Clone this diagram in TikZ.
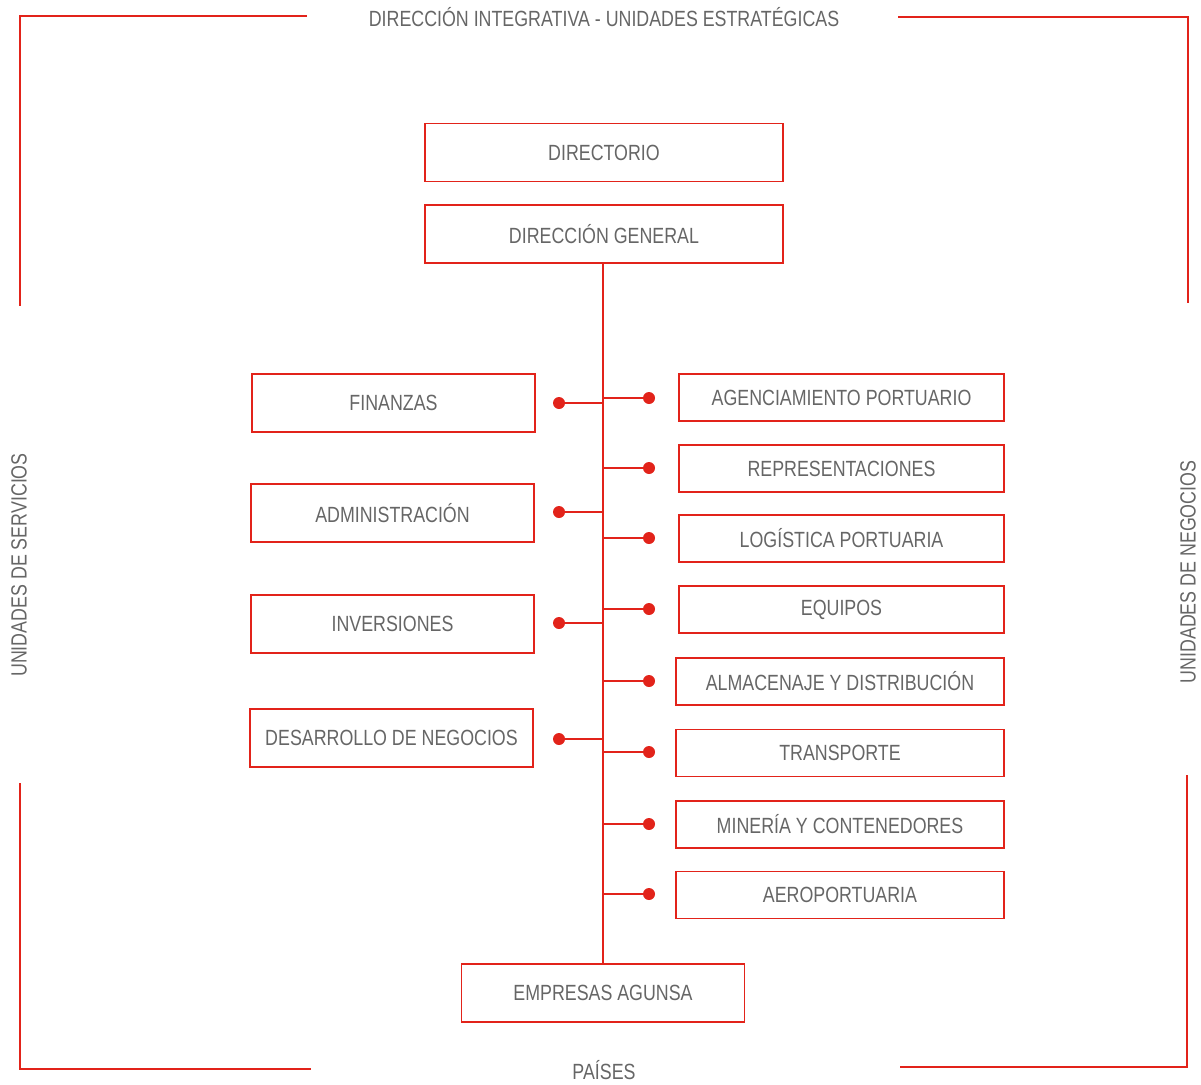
\documentclass[tikz,border=0pt]{standalone}
\usepackage{fontspec}
\setmainfont{Liberation Sans}[FakeStretch=0.81]
\usepackage{tikz}
\usetikzlibrary{positioning}
\definecolor{rojo}{HTML}{E2231A}
\definecolor{gris}{HTML}{666666}

\begin{document}
\begin{tikzpicture}[
			x=1pt, y=-1pt,
			every node/.style={font=\fontsize{22}{24}\selectfont, text=gris},
			box/.style={draw=rojo, line width=1.4pt, rectangle, minimum width=283pt, minimum height=58pt, inner sep=0pt},
			rbox/.style={box, minimum width=325pt, minimum height=47pt},
			dot/.style={circle, fill=rojo, inner sep=0pt, minimum size=12pt},
			frame/.style={draw=rojo, line width=1.4pt},
			link/.style={draw=rojo, line width=1.6pt}
			]
			\useasboundingbox (0,0) rectangle (1201,1084);

			% Los marcos
			\draw[frame] (307,16) -- (20,16) -- (20,306);
			\draw[frame] (898,17) -- (1188,17) -- (1188,303);
			\draw[frame] (20,783) -- (20,1069) -- (311,1069);
			\draw[frame] (1187,775) -- (1187,1067) -- (900,1067);
			\node (titulo) at (604,17) {DIRECCIÓN INTEGRATIVA - UNIDADES ESTRATÉGICAS};
			\node (paises) at (604,1070) {PAÍSES};
			\node[rotate=90] (servicios) at (19,565) {UNIDADES DE SERVICIOS};
			\node[rotate=90] (negocios) at (1188,572) {UNIDADES DE NEGOCIOS};

			% Las cajas centrales
			\node[box, minimum width=358pt] (DIR) at (604,152.5) {DIRECTORIO};
			\node[box, minimum width=358pt] (DG) at (604,234) {DIRECCIÓN GENERAL};
			\node[box] (EA) at (603,993) {EMPRESAS AGUNSA};
			\draw[link] (EA.north) -- (EA.north |- DG.south);

			% Unidades de servicios
			\node[box] (FIN) at (393.5,403) {FINANZAS};
			\node[box] (ADM) at (392.5,513) {ADMINISTRACIÓN};
			\node[box] (INV) at (392.5,624) {INVERSIONES};
			\node[box] (DES) at (391.5,738) {DESARROLLO DE NEGOCIOS};
			\node[dot] (dFIN) at (559,403) {};
			\node[dot] (dADM) at (559,512) {};
			\node[dot] (dINV) at (559,623) {};
			\node[dot] (dDES) at (559,739) {};
			\coordinate (tFIN) at (603,403);
			\coordinate (tADM) at (603,512);
			\coordinate (tINV) at (603,623);
			\coordinate (tDES) at (603,739);
			\draw[link] (dFIN.center) -- (tFIN);
			\draw[link] (dADM.center) -- (tADM);
			\draw[link] (dINV.center) -- (tINV);
			\draw[link] (dDES.center) -- (tDES);

			% Unidades de negocios
			\node[rbox] (AGE) at (841.5,397.5) {AGENCIAMIENTO PORTUARIO};
			\node[rbox] (REP) at (841.5,468.5) {REPRESENTACIONES};
			\node[rbox] (LOG) at (841.5,538.5) {LOGÍSTICA PORTUARIA};
			\node[rbox] (EQU) at (841.5,609.5) {EQUIPOS};
			\node[rbox, minimum width=328pt] (ALM) at (840,681.5) {ALMACENAJE Y DISTRIBUCIÓN};
			\node[rbox, minimum width=328pt] (TRA) at (840,753) {TRANSPORTE};
			\node[rbox, minimum width=328pt] (MIN) at (840,824.5) {MINERÍA Y CONTENEDORES};
			\node[rbox, minimum width=328pt] (AER) at (840,895) {AEROPORTUARIA};
			\node[dot] (dAGE) at (649,398) {};
			\node[dot] (dREP) at (649,468) {};
			\node[dot] (dLOG) at (649,538) {};
			\node[dot] (dEQU) at (649,609) {};
			\node[dot] (dALM) at (649,681) {};
			\node[dot] (dTRA) at (649,752) {};
			\node[dot] (dMIN) at (649,824) {};
			\node[dot] (dAER) at (649,894) {};
			\coordinate (tAGE) at (603,398);
			\coordinate (tREP) at (603,468);
			\coordinate (tLOG) at (603,538);
			\coordinate (tEQU) at (603,609);
			\coordinate (tALM) at (603,681);
			\coordinate (tTRA) at (603,752);
			\coordinate (tMIN) at (603,824);
			\coordinate (tAER) at (603,894);
			\draw[link] (tAGE) -- (dAGE.center);
			\draw[link] (tREP) -- (dREP.center);
			\draw[link] (tLOG) -- (dLOG.center);
			\draw[link] (tEQU) -- (dEQU.center);
			\draw[link] (tALM) -- (dALM.center);
			\draw[link] (tTRA) -- (dTRA.center);
			\draw[link] (tMIN) -- (dMIN.center);
			\draw[link] (tAER) -- (dAER.center);
		\end{tikzpicture}
\end{document}
